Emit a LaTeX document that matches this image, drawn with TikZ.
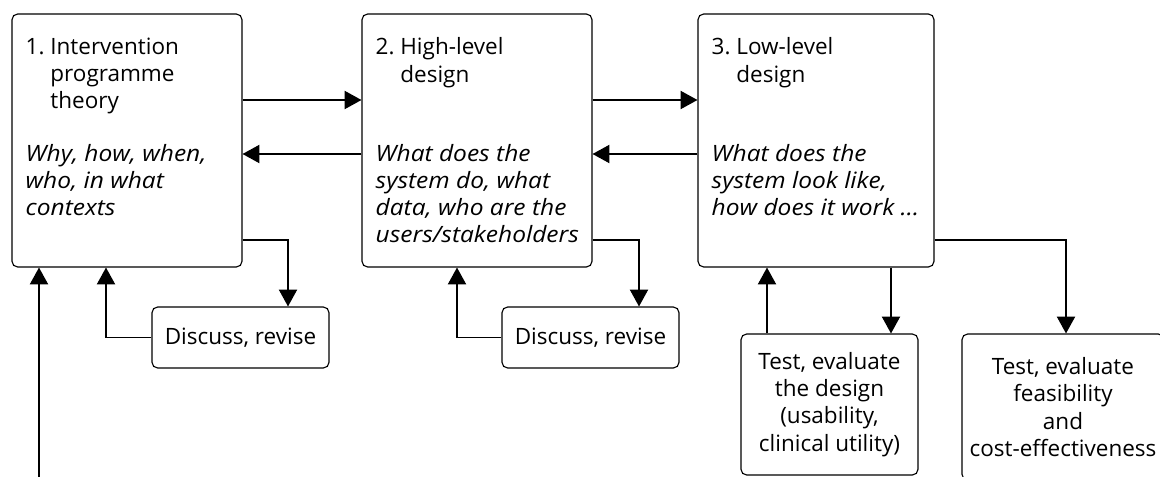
\documentclass[tikz,border=0pt]{standalone}
\usepackage{fontspec}
\setmainfont{Open Sans}[ItalicFeatures={FakeStretch=1.09}]
\frenchspacing
\usetikzlibrary{arrows.meta}

\begin{document}
\begin{tikzpicture}[
    font=\fontsize{16}{19.4}\selectfont,
    box/.style={draw,line width=0.8pt,rounded corners=4pt},
    stage/.style={box,minimum height=6.325cm},
    txt/.style={anchor=north west,inner sep=0pt,align=left},
    small/.style={box,align=center,inner sep=0pt},
    arr/.style={line width=0.8pt,-{Triangle[length=12pt,width=13pt]}}
  ]
    \useasboundingbox (0,0) rectangle (29,-11.925);

    \node[stage,minimum width=5.75cm] (s1) at (3.175,-3.5125) {};
    \node[stage,minimum width=5.75cm] (s2) at (11.925,-3.5125) {};
    \node[stage,minimum width=5.9cm] (s3) at (20.4,-3.5125) {};

    \node[txt] (t1) at ([shift={(0.35,-0.6)}]s1.north west) {1. Intervention\\\hphantom{1. }programme\\\hphantom{1. }theory};
    \node[txt,font=\fontsize{16}{19.2}\selectfont\itshape] (q1) at ([shift={(0.35,-3.26)}]s1.north west) {Why, how, when,\\who, in what\\contexts};
    \node[txt] (t2) at ([shift={(0.35,-0.6)}]s2.north west) {2. High-level\\\hphantom{2. }design};
    \node[txt,font=\fontsize{16}{19.2}\selectfont\itshape] (q2) at ([shift={(0.35,-3.26)}]s2.north west) {What does the\\system do, what\\data, who are the\\users/stakeholders};
    \node[txt] (t3) at ([shift={(0.35,-0.6)}]s3.north west) {3. Low-level\\\hphantom{3. }design};
    \node[txt,font=\fontsize{16}{19.2}\selectfont\itshape] (q3) at ([shift={(0.35,-3.26)}]s3.north west) {What does the\\system look like,\\how does it work …};

    \node[small,minimum width=4.425cm,minimum height=1.525cm] (d1) at (6.0125,-8.4375) {Discuss, revise};
    \node[small,minimum width=4.425cm,minimum height=1.525cm] (d2) at (14.7625,-8.4375) {Discuss, revise};
    \node[small,minimum width=4.425cm,minimum height=3.525cm] (e1) at (20.7375,-10.1125) {Test, evaluate\\the design\\(usability,\\clinical utility)};
    \node[small,minimum width=5.05cm,minimum height=3.65cm] (e2) at (26.575,-10.175) {Test, evaluate\\feasibility\\and\\cost-effectiveness};

    \coordinate (start) at (0.975,-11.925);

    \draw[arr] (s1.east |- 0,-2.5) -- (s2.west |- 0,-2.5);
    \draw[arr] (s2.west |- 0,-3.85) -- (s1.east |- 0,-3.85);
    \draw[arr] (s2.east |- 0,-2.5) -- (s3.west |- 0,-2.5);
    \draw[arr] (s3.west |- 0,-3.85) -- (s2.east |- 0,-3.85);

    \draw[arr] (s1.east |- 0,-6) -| (d1.north -| 7.2,0);
    \draw[arr] (d1.west) -| (s1.south -| 2.65,0);
    \draw[arr] (start) -- (s1.south -| start);

    \draw[arr] (s2.east |- 0,-6) -| (d2.north -| 15.975,0);
    \draw[arr] (d2.west) -| (s2.south -| 11.425,0);

    \draw[arr] (e1.north -| 19.175,0) -- (s3.south -| 19.175,0);
    \draw[arr] (s3.south -| 22.275,0) -- (e1.north -| 22.275,0);
    \draw[arr] (s3.east |- 0,-6) -| (e2.north -| 26.65,0);
\end{tikzpicture}
\end{document}
